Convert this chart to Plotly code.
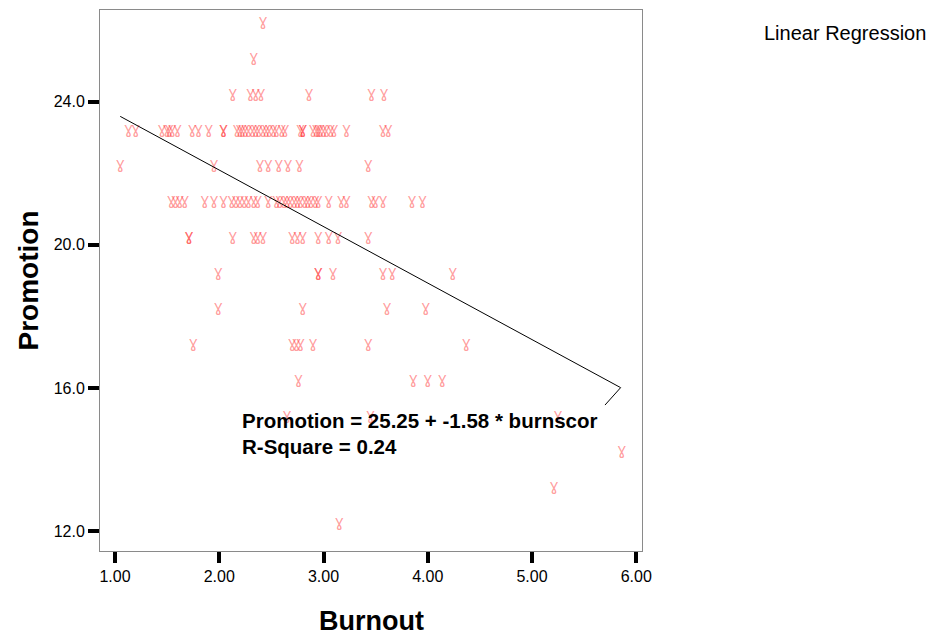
import plotly.graph_objects as go

# ---- data: burnout scores observed at each promotion level ----
promotion_levels = [26, 25, 24, 23, 22, 21, 20, 19, 18, 17, 16, 15, 14, 13, 12]
burnout_p26 = [2.42]
burnout_p25 = [2.33]
burnout_p24 = [2.13, 2.30, 2.35, 2.40, 2.86, 3.46, 3.58]
burnout_p23 = [1.13, 1.20, 1.45, 1.50, 1.52, 1.55, 1.60, 1.74, 1.80, 1.90, 2.04, 2.04,
               2.17, 2.20, 2.22, 2.25, 2.28, 2.32, 2.35, 2.38, 2.42, 2.45, 2.48, 2.52,
               2.55, 2.60, 2.63, 2.78, 2.80, 2.80, 2.90, 2.93, 2.95, 2.97, 3.00, 3.03,
               3.07, 3.10, 3.22, 3.57, 3.62]
burnout_p22 = [1.05, 1.95, 2.39, 2.47, 2.57, 2.66, 2.77, 3.43]
burnout_p21 = [1.54, 1.58, 1.62, 1.67, 1.86, 1.95, 2.04, 2.12, 2.16, 2.20, 2.24, 2.28,
               2.33, 2.37, 2.47, 2.55, 2.58, 2.62, 2.65, 2.68, 2.72, 2.75, 2.78, 2.82,
               2.85, 2.88, 2.92, 2.95, 3.05, 3.17, 3.22, 3.46, 3.50, 3.57, 3.85, 3.95]
burnout_p20 = [1.71, 1.71, 2.13, 2.33, 2.37, 2.42, 2.70, 2.75, 2.80, 2.95, 3.05, 3.14, 3.43]
burnout_p19 = [1.99, 2.95, 2.95, 3.09, 3.57, 3.66, 4.24]
burnout_p18 = [1.99, 2.80, 3.61, 3.98]
burnout_p17 = [1.75, 2.70, 2.74, 2.78, 2.90, 3.43, 4.37]
burnout_p16 = [2.76, 3.86, 4.00, 4.14]
burnout_p15 = [2.65, 3.45, 5.25]
burnout_p14 = [5.86]
burnout_p13 = [5.21]
burnout_p12 = [3.15]

# regression fit
intercept = 25.25
slope = -1.58
r_square = 0.24
fit_x_range = [1.05, 5.85]
fit_tail_x = [5.70]
fit_tail_y = [15.52]

x_ticks = [1, 2, 3, 4, 5, 6]
y_ticks = [12, 16, 20, 24]

# ---- build ----
rows = [burnout_p26, burnout_p25, burnout_p24, burnout_p23, burnout_p22, burnout_p21,
        burnout_p20, burnout_p19, burnout_p18, burnout_p17, burnout_p16, burnout_p15,
        burnout_p14, burnout_p13, burnout_p12]
xs, ys = [], []
for lvl, vals in zip(promotion_levels, rows):
    for v in vals:
        xs.append(v)
        ys.append(lvl)

n = 40
fit_x = [fit_x_range[0] + (fit_x_range[1] - fit_x_range[0]) * i / (n - 1) for i in range(n)]
fit_y = [intercept + slope * v for v in fit_x]
line_x = fit_x + fit_tail_x
line_y = fit_y + fit_tail_y

fig = go.Figure()
# point glyph: a V-shaped mark with a loop, standing in for the SPSS "victory hand" marker
fig.add_trace(go.Scatter(
    x=xs, y=ys, mode="text", text=["ɣ"] * len(xs),
    textposition="top center",
    textfont=dict(family="DejaVu Sans", size=16, color="rgba(255,40,40,0.45)"),
    hoverinfo="x+y", showlegend=False))
fig.add_trace(go.Scatter(
    x=line_x, y=line_y, mode="lines",
    line=dict(color="black", width=1), showlegend=False, hoverinfo="skip"))

axis_common = dict(
    showgrid=False, zeroline=False, showline=True, mirror=True,
    linecolor="#8a8a8a", linewidth=1,
    ticks="outside", ticklen=11, tickwidth=4, tickcolor="black",
    tickfont=dict(family="Liberation Sans, Arial, sans-serif", size=16, color="black"),
)
fig.update_xaxes(range=[0.856, 6.055], tickvals=x_ticks, tickformat=".2f", **axis_common)
fig.update_yaxes(range=[11.44, 26.565], tickvals=y_ticks, tickformat=".1f", **axis_common)

font = "Liberation Sans, Arial, sans-serif"
fig.update_layout(
    width=930, height=635,
    margin=dict(l=100, r=288, t=10, b=84),
    plot_bgcolor="white", paper_bgcolor="white",
    font=dict(family=font, color="black"),
    annotations=[
        dict(text="<b>Burnout</b>", x=0.5, y=0, xref="paper", yref="paper",
             xanchor="center", yanchor="middle", yshift=-70, showarrow=False,
             font=dict(size=27, family=font)),
        dict(text="<b>Promotion</b>", x=0, y=0.5, xref="paper", yref="paper",
             xanchor="center", yanchor="middle", xshift=-72, textangle=-90,
             showarrow=False, font=dict(size=28, family=font)),
        dict(text="Linear Regression", x=1.222, y=0.9575, xref="paper", yref="paper",
             xanchor="left", yanchor="middle", showarrow=False,
             font=dict(size=20, family=font)),
        dict(text=f"<b>Promotion = {intercept:.2f} + {slope:.2f} * burnscor</b>",
             x=0.2575, y=0.2417, xref="paper", yref="paper",
             xanchor="left", yanchor="middle", showarrow=False,
             font=dict(size=20.5, family=font)),
        dict(text=f"<b>R-Square = {r_square:.2f}</b>",
             x=0.2575, y=0.1936, xref="paper", yref="paper",
             xanchor="left", yanchor="middle", showarrow=False,
             font=dict(size=20.5, family=font)),
    ],
)

fig.write_html("out.html", config={"displayModeBar": False},
               post_script="document.body.style.margin='0px';")
